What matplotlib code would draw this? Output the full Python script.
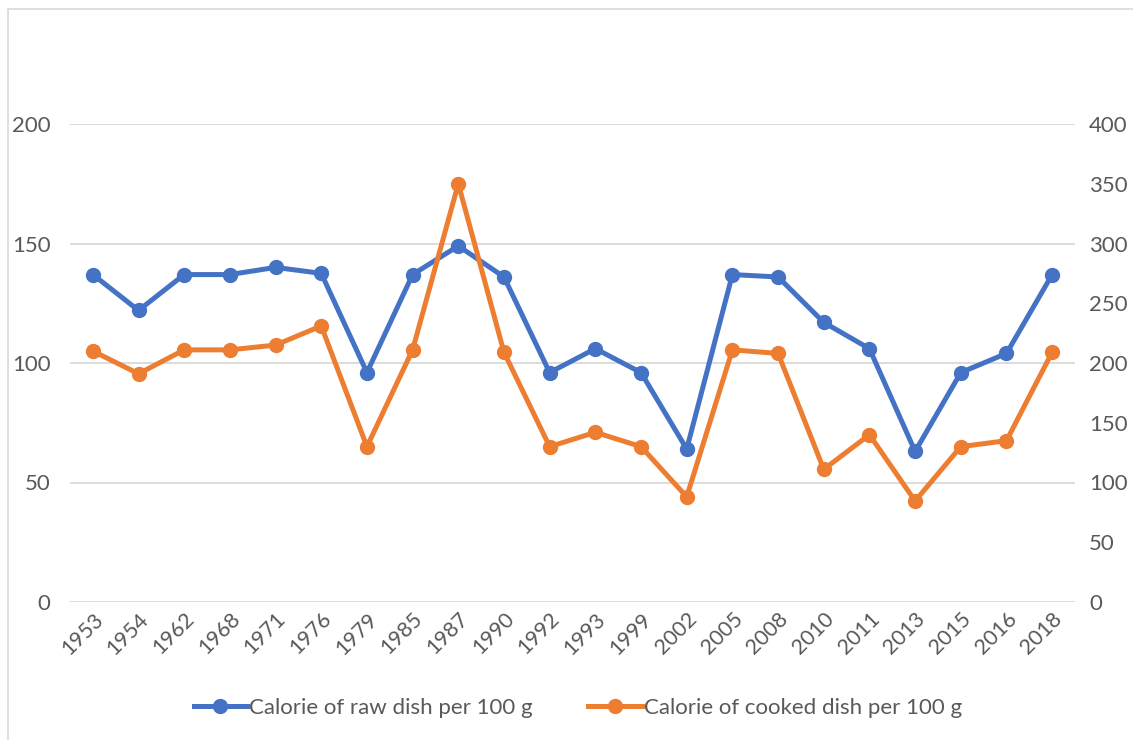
import matplotlib.pyplot as plt
from matplotlib.patches import Rectangle
from matplotlib.lines import Line2D

years = ['1953', '1954', '1962', '1968', '1971', '1976', '1979', '1985', '1987', '1990', '1992',
         '1993', '1999', '2002', '2005', '2008', '2010', '2011', '2013', '2015', '2016', '2018']
raw_kcal = [137, 122, 137, 137, 140, 137.5, 96, 137, 149, 136, 96,
            106, 96, 64, 137, 136, 117, 106, 63, 96, 104, 137]
cooked_kcal = [210, 191, 211, 211, 215, 231, 130, 211, 350, 209, 130,
               142, 130, 88, 211, 208, 111, 140, 84.5, 130, 135, 209]

BLUE = '#4472C4'
ORANGE = '#ED7D31'
GRID = '#D9D9D9'
TEXT = '#595959'

plt.rcParams['font.family'] = ['Lato', 'DejaVu Sans']

W, H = 1133, 740
fig = plt.figure(figsize=(W / 100, H / 100), dpi=100)

# chart frame (runs off the right and bottom edge)
fig.patches.append(Rectangle((8 / W, -0.1), 1.2, 1.1 - 9 / H, transform=fig.transFigure,
                             fill=False, edgecolor=GRID, linewidth=1.2))

ax = fig.add_axes([70 / W, (H - 602) / H, (1075 - 70) / W, (602 - 124) / H])
ax2 = ax.twinx()

x = list(range(len(years)))
ax.plot(x, raw_kcal, color=BLUE, lw=3.6, marker='o', ms=10, zorder=3)
ax2.plot(x, cooked_kcal, color=ORANGE, lw=3.6, marker='o', ms=10, zorder=3)

ax.set_xlim(-0.5, len(years) - 0.5)
ax.set_ylim(0, 200)
ax2.set_ylim(0, 400)
ax.set_yticks(range(0, 201, 50))
ax2.set_yticks(range(0, 401, 50))
ax.set_xticks(x)
ax.set_xticklabels(years, rotation=45, ha='right', rotation_mode='anchor')

ax.grid(axis='y', color=GRID, lw=1.3)
ax.set_axisbelow(True)
for a in (ax, ax2):
    for s in a.spines.values():
        s.set_visible(False)
    a.tick_params(length=0, colors=TEXT, labelsize=16)
ax.tick_params(axis='y', pad=14)
ax2.tick_params(axis='y', pad=10)
ax.tick_params(axis='x', pad=5, labelsize=15.5)

handles = [Line2D([], [], color=BLUE, lw=3.6, marker='o', ms=10),
           Line2D([], [], color=ORANGE, lw=3.6, marker='o', ms=10)]
fig.legend(handles, ['Calorie of raw dish per 100 g', 'Calorie of cooked dish per 100 g'],
           loc='center', bbox_to_anchor=(0.51, 1 - 708 / H), ncol=2, frameon=False,
           fontsize=16, labelcolor=TEXT, handlelength=2.4, handletextpad=0.1, columnspacing=2.5)

fig.savefig('out.png', dpi=100)
